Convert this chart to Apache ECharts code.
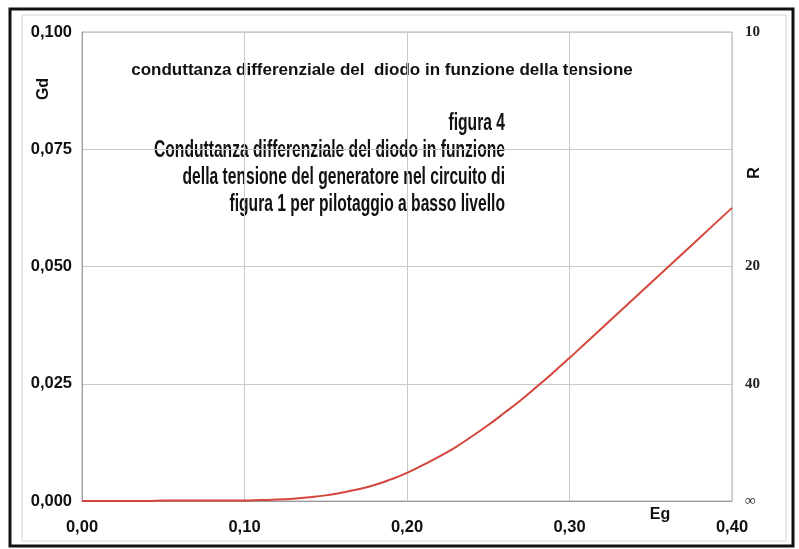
<!DOCTYPE html>
<html>
<head>
<meta charset="utf-8">
<title>Conduttanza differenziale del diodo</title>
<script src="https://cdn.jsdelivr.net/npm/echarts@6/dist/echarts.min.js"></script>
<style>
  html, body { margin: 0; padding: 0; background: #fff; }
  #chart { width: 799px; height: 549px; }
</style>
</head>
<body>
<div id="chart"></div>
<script>
// Eg (V) and Gd (S)
const eg = [0.00, 0.01, 0.02, 0.03, 0.04, 0.05, 0.06, 0.07, 0.08, 0.09,
  0.10, 0.11, 0.12, 0.13, 0.14, 0.15, 0.16, 0.17, 0.18, 0.19,
  0.20, 0.21, 0.22, 0.23, 0.24, 0.25, 0.26, 0.27, 0.28, 0.29,
  0.30, 0.31, 0.32, 0.33, 0.34, 0.35, 0.36, 0.37, 0.38, 0.39, 0.40];
const gd = [0, 0, 0, 0, 0, 0.0001, 0.0001, 0.0001, 0.0001, 0.0001,
  0.0001, 0.0002, 0.0003, 0.0005, 0.0008, 0.0012, 0.0018, 0.0025, 0.0034, 0.0046,
  0.0060, 0.0077, 0.0095, 0.0115, 0.0138, 0.0162, 0.0188, 0.0215, 0.0244, 0.0274,
  0.0305, 0.0337, 0.0369, 0.0401, 0.0433, 0.0465, 0.0497, 0.0529, 0.0561, 0.0593, 0.0625];
// right axis: R = 1/Gd at the Gd gridlines
const rTicks = { "0.1": "10", "0.075": "", "0.05": "20", "0.025": "40", "0": "\u221e" };
const captionLines = ["figura 4", "Conduttanza differenziale del diodo in funzione",
  "della tensione del generatore nel circuito di", "figura 1 per pilotaggio a basso livello"];

const chart = echarts.init(document.getElementById("chart"), null, { renderer: "canvas" });
const bold = { fontFamily: "Liberation Sans, Arial, sans-serif", fontWeight: "bold", color: "#111" };

chart.setOption({
  animation: false,
  backgroundColor: "#fff",
  grid: { left: 82, right: 67, top: 32, bottom: 48, show: true, borderColor: "#b5b5b5", borderWidth: 1 },
  xAxis: {
    type: "value", min: 0, max: 0.4, interval: 0.1,
    axisLine: { lineStyle: { color: "#999" } }, axisTick: { show: false },
    splitLine: { lineStyle: { color: "#c9c9c9" } },
    axisLabel: { ...bold, fontSize: 16.5, margin: 18, formatter: (v) => v.toFixed(2).replace(".", ",") },
  },
  yAxis: [{
    type: "value", min: 0, max: 0.1, interval: 0.025,
    axisLine: { show: true, lineStyle: { color: "#999" } }, axisTick: { show: false },
    splitLine: { lineStyle: { color: "#c9c9c9" } },
    axisLabel: { ...bold, fontSize: 16.5, margin: 10, formatter: (v) => v.toFixed(3).replace(".", ",") },
  }, {
    type: "value", min: 0, max: 0.1, interval: 0.025, position: "right",
    axisLine: { show: false }, axisTick: { show: false }, splitLine: { show: false },
    axisLabel: { fontFamily: "Liberation Serif, Times New Roman, serif", fontSize: 15, fontWeight: "bold", color: "#222", margin: 13,
      formatter: (v) => rTicks[String(+v.toFixed(3))] },
  }],
  series: [{
    type: "line", smooth: true, showSymbol: false,
    data: eg.map((x, i) => [x, gd[i]]),
    lineStyle: { color: "#d4463c", width: 2 },
  }],
  graphic: [
    { type: "rect", shape: { x: 10, y: 9, width: 783, height: 537 }, style: { fill: null, stroke: "#111", lineWidth: 3 }, silent: true },
    { type: "rect", shape: { x: 22, y: 15, width: 764, height: 526 }, style: { fill: null, stroke: "#d4d4d4", lineWidth: 1 }, silent: true },
    { type: "text", x: 382, y: 70, style: { ...bold, text: "conduttanza differenziale del  diodo in funzione della tensione", fontSize: 17, fill: "#111", align: "center", verticalAlign: "middle" } },
    { type: "text", x: 44, y: 89, rotation: Math.PI / 2, style: { ...bold, text: "Gd", fontSize: 16, fill: "#111", align: "center", verticalAlign: "middle" } },
    { type: "text", x: 755, y: 173, rotation: Math.PI / 2, style: { ...bold, text: "R", fontSize: 16, fill: "#111", align: "center", verticalAlign: "middle" } },
    { type: "text", x: 660, y: 515, style: { ...bold, text: "Eg", fontSize: 16, fill: "#111", align: "center", verticalAlign: "middle" } },
    ...captionLines.map((t, i) => ({
      type: "text", x: 505, y: 124 + i * 27, scaleX: 0.68,
      style: { text: t, fontFamily: "Liberation Sans Narrow, Arial Narrow, sans-serif", fontWeight: "bold", fontSize: 23, fill: "#111", align: "right", verticalAlign: "middle" },
    })),
  ],
});
</script>
</body>
</html>
